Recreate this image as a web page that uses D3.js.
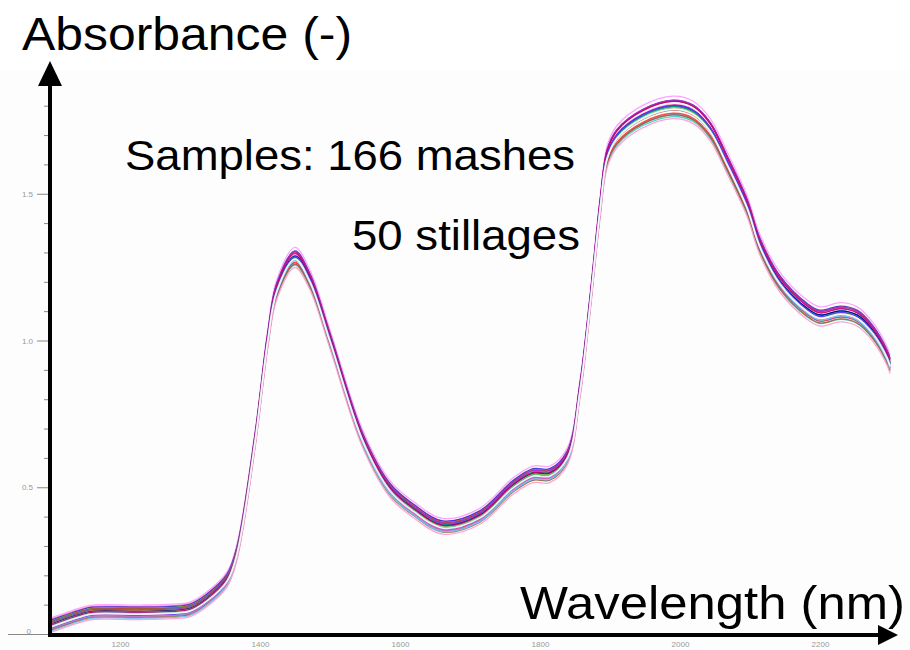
<!DOCTYPE html>
<html>
<head>
<meta charset="utf-8">
<script src="https://cdn.jsdelivr.net/npm/d3@7"></script>
<style>
  body { margin: 0; background: #fff; }
  text { font-family: "Liberation Sans", Arial, sans-serif; }
</style>
</head>
<body>
<svg id="chart" width="910" height="650"></svg>
<script>
// mean NIR spectrum (nm, absorbance)
const wavelengths = [1100, 1147, 1161, 1229, 1276, 1300, 1324, 1353, 1367, 1393, 1411, 1424, 1450,
  1471, 1500, 1547, 1586, 1619, 1661, 1714, 1761, 1790, 1814, 1839, 1857, 1871, 1886, 1896,
  1910, 1947, 1990, 2019, 2043, 2067, 2096, 2114, 2143, 2181, 2200, 2229, 2253, 2276, 2296, 2300];
const meanAbsorbance = [0.027, 0.065, 0.072, 0.072, 0.075, 0.082, 0.116, 0.184, 0.276, 0.661, 1.002, 1.172, 1.281,
  1.206, 1.002, 0.661, 0.491, 0.422, 0.365, 0.399, 0.501, 0.542, 0.542, 0.603, 0.831, 1.114, 1.455, 1.625,
  1.693, 1.761, 1.792, 1.775, 1.717, 1.605, 1.455, 1.325, 1.196, 1.104, 1.080, 1.094, 1.080, 1.026, 0.944, 0.917];

// per-sample spread around the mean (estimated from band width)
const sampleOffsets = [0.026, 0.022, 0.019, 0.016, 0.013, 0.011, 0.009, 0.007, 0.005, 0.003, 0.001, -0.001,
  -0.003, -0.005, -0.007, -0.009, -0.011, -0.013, -0.016, -0.019, -0.022, -0.004];
const sampleGains = [1.008, 0.994, 1.004, 0.99, 1.006, 0.996, 1.01, 0.992, 1.002, 0.998, 1.012, 0.988,
  1.0, 1.006, 0.994, 1.01, 0.99, 1.004, 0.996, 1.008, 0.992, 1.0];
const sampleColors = ["#ff99ff", "#ff66cc", "#3333cc", "#33aa33", "#cc3333", "#00aaaa", "#9933cc", "#ff9900",
  "#000099", "#66cc66", "#cc0066", "#3399ff", "#999933", "#009966", "#ff3333", "#6633ff", "#33cccc",
  "#cc66cc", "#996633", "#66ccff", "#ff99cc", "#ffffff"];

const xTicks = [1200, 1400, 1600, 1800, 2000, 2200];
const yMajorTicks = [0, 0.5, 1.0, 1.5];
const yMajorLabels = ["0", "0.5", "1.0", "1.5"];
const yMinorTicks = [0.1, 0.2, 0.3, 0.4, 0.6, 0.7, 0.8, 0.9, 1.1, 1.2, 1.3, 1.4, 1.6, 1.7, 1.8];

const svg = d3.select("#chart");
const x = d3.scaleLinear().domain([1100, 2300]).range([50, 890]);
const y = d3.scaleLinear().domain([0, 1]).range([634, 340.5]);

svg.append("rect").attr("x", 0).attr("y", 70).attr("width", 910).attr("height", 580).attr("fill", "#fdfdfd");

// x tick labels
const xAxis = svg.append("g")
  .attr("transform", `translate(0,${y(0)})`)
  .call(d3.axisBottom(x).tickValues(xTicks).tickSize(3).tickFormat(d3.format("d")));
xAxis.select(".domain").remove();
xAxis.selectAll("line").attr("stroke", "#888");
xAxis.selectAll("text").attr("fill", "#999").attr("font-size", 8).attr("dy", "0.9em");

// y ticks
const yMinor = svg.append("g")
  .attr("transform", `translate(${x(1100)},0)`)
  .call(d3.axisLeft(y).tickValues(yMinorTicks).tickSize(6).tickFormat(""));
yMinor.select(".domain").remove();
yMinor.selectAll("line").attr("stroke", "#888");

const yMajor = svg.append("g")
  .attr("transform", `translate(${x(1100)},0)`)
  .call(d3.axisLeft(y).tickValues(yMajorTicks).tickSize(13)
    .tickFormat((d, i) => yMajorLabels[i]));
yMajor.select(".domain").remove();
yMajor.selectAll("line").attr("stroke", "#888")
  .attr("x2", d => d === 0 ? -42 : -13);
yMajor.selectAll("text").attr("fill", "#999").attr("font-size", 8)
  .attr("x", -17)
  .attr("dy", d => d === 0 ? "-0.1em" : "0.32em")
  .attr("dx", d => d === 0 ? "-2" : "0");

// spectra
const line = d3.line()
  .x(d => x(d[0]))
  .y(d => y(d[1]))
  .curve(d3.curveCatmullRom.alpha(0.5));

const spectra = sampleOffsets.map((o, i) => ({
  color: sampleColors[i],
  points: wavelengths.map((w, j) => [w, meanAbsorbance[j] * sampleGains[i] + o])
}));

svg.append("g").selectAll("path").data(spectra).enter().append("path")
  .attr("d", d => line(d.points))
  .attr("fill", "none")
  .attr("stroke", d => d.color)
  .attr("stroke-width", d => d.color === "#ffffff" ? 1.8 : 1.3)
  .attr("stroke-opacity", 0.9);

// axis arrows
const x0 = x(1100), yBase = y(0);
svg.append("line").attr("x1", x0).attr("y1", yBase + 2).attr("x2", x0).attr("y2", 86)
  .attr("stroke", "#000").attr("stroke-width", 4);
svg.append("path").attr("d", `M${x0 - 12},86 L${x0},61 L${x0 + 12},86 Z`).attr("fill", "#000");
svg.append("line").attr("x1", x0 - 2).attr("y1", yBase + 1).attr("x2", 878).attr("y2", yBase + 1)
  .attr("stroke", "#000").attr("stroke-width", 4);
svg.append("path").attr("d", `M878,${yBase - 9} L898,${yBase + 1} L878,${yBase + 11} Z`).attr("fill", "#000");

// titles and annotation
const label = (tx, ty, size, len, str) => svg.append("text")
  .attr("x", tx).attr("y", ty).attr("font-size", size)
  .attr("textLength", len).attr("lengthAdjust", "spacingAndGlyphs").text(str);
label(22, 50, 46, 330, "Absorbance (-)");
label(520, 619, 46, 385, "Wavelength (nm)");
label(125, 170, 42, 450, "Samples: 166 mashes");
label(352, 250, 42, 228, "50 stillages");
</script>
</body>
</html>
